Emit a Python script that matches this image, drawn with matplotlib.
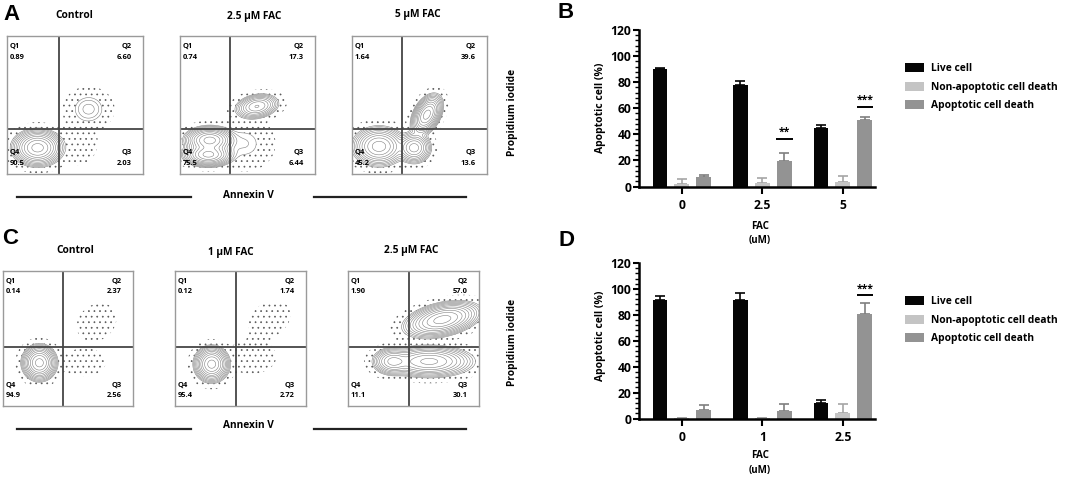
import numpy as np
import matplotlib
matplotlib.use('Agg')
import matplotlib.pyplot as plt
from matplotlib.lines import Line2D
from matplotlib.ticker import MultipleLocator

# ---------------- data ----------------
series_names = ['Live cell', 'Non-apoptotic cell death', 'Apoptotic cell death']

conc_B = ['0', '2.5', '5']
live_B = [89.9, 77.9, 45.2]
live_B_err = [1.3, 3.0, 2.3]
nonapo_B = [2.0, 2.6, 3.8]
nonapo_B_err = [3.6, 3.8, 3.9]
apo_B = [7.4, 19.2, 51.1]
apo_B_err = [1.8, 6.3, 2.5]
sig_B_groups = [1, 2]
sig_B_heights = [36.3, 60.8]
sig_B_labels = ['**', '***']

conc_D = ['0', '1', '2.5']
live_D = [91.2, 91.4, 12.0]
live_D_err = [3.3, 5.4, 2.0]
nonapo_D = [0.3, 0.3, 4.3]
nonapo_D_err = [0.0, 0.0, 6.7]
apo_D = [6.4, 6.1, 80.5]
apo_D_err = [3.8, 4.9, 8.6]
sig_D_groups = [2]
sig_D_heights = [95.0]
sig_D_labels = ['***']

yticks_bar = [0, 20, 40, 60, 80, 100, 120]

# flow cytometry panels: quadrant percentages (Q1, Q2, Q3, Q4)
titles_A = ['Control', '2.5 µM FAC', '5 µM FAC']
quad_A = [['0.89', '6.60', '2.03', '90.5'],
          ['0.74', '17.3', '6.44', '75.5'],
          ['1.64', '39.6', '13.6', '45.2']]
gate_A = [(0.38, 0.326), (0.37, 0.326), (0.367, 0.326)]
# populations: (annexin centre, PI centre, spread x, spread y, tilt deg, weight)
pops_A = [
    [(0.225, 0.19, 0.070, 0.050, 0, 1.0), (0.60, 0.47, 0.070, 0.060, 0, 0.05),
     (0.52, 0.23, 0.070, 0.080, 0, 0.014)],
    [(0.22, 0.245, 0.070, 0.038, 0, 0.6), (0.21, 0.14, 0.070, 0.033, 0, 0.5),
     (0.57, 0.49, 0.065, 0.035, 10, 0.2), (0.48, 0.22, 0.090, 0.080, 0, 0.04)],
    [(0.20, 0.20, 0.075, 0.055, 0, 0.6), (0.46, 0.19, 0.050, 0.045, 0, 0.22),
     (0.555, 0.43, 0.060, 0.036, 60, 0.45)],
]

titles_C = ['Control', '1 µM FAC', '2.5 µM FAC']
quad_C = [['0.14', '2.37', '2.56', '94.9'],
          ['0.12', '1.74', '2.72', '95.4'],
          ['1.90', '57.0', '30.1', '11.1']]
gate_C = [(0.46, 0.438), (0.466, 0.438), (0.467, 0.438)]
pops_C = [
    [(0.28, 0.32, 0.050, 0.050, 0, 1.0), (0.72, 0.62, 0.100, 0.080, 35, 0.012),
     (0.62, 0.32, 0.100, 0.060, 0, 0.010)],
    [(0.28, 0.31, 0.050, 0.050, 0, 1.0), (0.72, 0.64, 0.110, 0.080, 30, 0.012),
     (0.58, 0.36, 0.110, 0.070, 0, 0.014)],
    [(0.72, 0.64, 0.110, 0.045, 12, 0.6), (0.62, 0.33, 0.130, 0.045, 0, 0.45),
     (0.34, 0.33, 0.060, 0.040, 0, 0.12)],
]

# ---------------- figure ----------------
W, H = 1072, 478
fig = plt.figure(figsize=(W / 100, H / 100), dpi=100)
plt.rcParams['hatch.color'] = '#5a5a5a'
plt.rcParams['hatch.linewidth'] = 0.5

FONT = ['Open Sans', 'DejaVu Sans']
LETTER_FONT = ['Liberation Sans', 'DejaVu Sans']


def rect(x0, y0, x1, y1):
    return [x0 / W, 1 - y1 / H, (x1 - x0) / W, (y1 - y0) / H]


def ftext(x, y, s, **kw):
    kw.setdefault('family', FONT)
    kw.setdefault('weight', 'bold')
    kw.setdefault('ha', 'center')
    kw.setdefault('va', 'center')
    return fig.text(x / W, 1 - y / H, s, **kw)


def hline_px(x0, x1, y, **kw):
    fig.add_artist(Line2D([x0 / W, x1 / W], [1 - y / H, 1 - y / H],
                          transform=fig.transFigure, **kw))


gx = np.linspace(0, 1, 240)
GX, GY = np.meshgrid(gx, gx)


def density(pops):
    Z = np.zeros_like(GX)
    for cx, cy, sx, sy, ang, w in pops:
        t = np.deg2rad(ang)
        dx, dy = GX - cx, GY - cy
        u = dx * np.cos(t) + dy * np.sin(t)
        v = -dx * np.sin(t) + dy * np.cos(t)
        Z += w / (sx * sy) * np.exp(-0.5 * ((u / sx) ** 2 + (v / sy) ** 2))
    return Z / Z.max()


def flow_panel(box, gate, pops, quads):
    ax = fig.add_axes(rect(*box))
    ax.set_xlim(0, 1)
    ax.set_ylim(0, 1)
    ax.set_xticks([])
    ax.set_yticks([])
    for sp in ax.spines.values():
        sp.set_color('#9a9a9a')
        sp.set_linewidth(1.0)
    Z = density(pops)
    ax.contourf(GX, GY, Z, levels=[10 ** -3.0, 10 ** -1.8], colors='none',
                hatches=['...'])
    ax.contour(GX, GY, Z, levels=np.logspace(-1.8, -0.08, 11),
               colors='#808080', linewidths=0.4)
    ax.axvline(gate[0], color='#454545', lw=1.3)
    ax.axhline(gate[1], color='#454545', lw=1.3)
    tk = dict(fontsize=5.4, weight='bold', family=FONT, transform=ax.transAxes,
              va='center')
    ax.text(0.022, 0.922, 'Q1', ha='left', **tk)
    ax.text(0.022, 0.845, quads[0], ha='left', **tk)
    ax.text(0.915, 0.922, 'Q2', ha='right', **tk)
    ax.text(0.915, 0.845, quads[1], ha='right', **tk)
    ax.text(0.915, 0.155, 'Q3', ha='right', **tk)
    ax.text(0.915, 0.078, quads[2], ha='right', **tk)
    ax.text(0.022, 0.155, 'Q4', ha='left', **tk)
    ax.text(0.022, 0.078, quads[3], ha='left', **tk)
    return ax


# ----- panel A -----
boxes_A = [(7, 36, 143, 174), (180, 36, 315, 174), (352, 36, 487, 174)]
title_pos_A = [(74, 16), (254, 17), (418, 15)]
for i in range(3):
    flow_panel(boxes_A[i], gate_A[i], pops_A[i], quad_A[i])
    ftext(*title_pos_A[i], titles_A[i], fontsize=7.3)
ftext(248, 195, 'Annexin V', fontsize=7.3)
hline_px(17, 191, 197, color='#222222', lw=1.6)
hline_px(314, 466, 197, color='#222222', lw=1.6)
ftext(513, 112, 'Propidium iodide', fontsize=7.3, rotation=90)

# ----- panel C -----
boxes_C = [(3, 271, 133, 406), (175, 271, 306, 406), (348, 271, 479, 406)]
title_pos_C = [(75, 251), (231, 252), (411, 251)]
for i in range(3):
    flow_panel(boxes_C[i], gate_C[i], pops_C[i], quad_C[i])
    ftext(*title_pos_C[i], titles_C[i], fontsize=7.3)
ftext(248, 426, 'Annexin V', fontsize=7.3)
hline_px(17, 191, 429, color='#222222', lw=1.6)
hline_px(314, 466, 429, color='#222222', lw=1.6)
ftext(513, 342, 'Propidium iodide', fontsize=7.3, rotation=90)

# ----- bar panels -----
bar_colors = ['#050505', '#c4c4c4', '#939393']
err_colors = ['#050505', '#a5a5a5', '#7f7f7f']
offsets = [-0.273, 0.0, 0.273]
bar_w = 0.186


def bar_panel(box, cats, vals, errs, sig_groups, sig_heights, sig_labels,
              legend_xy, xlabel_y, ylabel_y):
    ax = fig.add_axes(rect(*box))
    x = np.arange(len(cats))
    for k in range(3):
        xs = x + offsets[k]
        ax.bar(xs, vals[k], width=bar_w, color=bar_colors[k],
               label=series_names[k], zorder=2)
        ax.errorbar(xs, vals[k], yerr=[np.zeros(len(cats)), errs[k]], fmt='none',
                    ecolor=err_colors[k], elinewidth=1.2, capsize=3.3,
                    capthick=1.2, zorder=1)
    for g, h, lab in zip(sig_groups, sig_heights, sig_labels):
        xc = g + offsets[2]
        ax.plot([xc - bar_w * 0.55, xc + bar_w * 0.55], [h, h], color='black',
                lw=1.4, zorder=3, solid_capstyle='butt')
        ax.text(xc, h + 0.8, lab, ha='center', va='bottom', fontsize=7.5,
                weight='bold', family=FONT)
    ax.set_xlim(-0.534, 2.398)
    ax.set_ylim(0, 120)
    ax.set_yticks(yticks_bar)
    ax.set_yticklabels([str(t) for t in yticks_bar], fontsize=8.7,
                       weight='bold', family=FONT)
    ax.yaxis.set_minor_locator(MultipleLocator(4))
    ax.set_xticks(x)
    ax.set_xticklabels(cats, fontsize=8.7, weight='bold', family=FONT)
    for s in ['top', 'right']:
        ax.spines[s].set_visible(False)
    for s in ['left', 'bottom']:
        ax.spines[s].set_linewidth(1.8)
    ax.tick_params(axis='y', which='major', length=4.5, width=1.5, pad=1)
    ax.tick_params(axis='y', which='minor', length=2.8, width=1.0)
    ax.tick_params(axis='x', which='major', length=5, width=1.5, pad=4)
    ftext(760, xlabel_y, 'FAC', fontsize=7)
    ftext(760, xlabel_y + 15, '(uM)', fontsize=7)
    ftext(600, ylabel_y, 'Apoptotic cell (%)', fontsize=7.5, rotation=90)
    ax.legend(loc='upper left', bbox_to_anchor=(legend_xy[0] / W, 1 - legend_xy[1] / H),
              bbox_transform=fig.transFigure, frameon=False, borderpad=0,
              borderaxespad=0, handlelength=1.8, handleheight=1.0,
              handletextpad=0.7, labelspacing=0.72,
              prop={'family': FONT, 'weight': 'bold', 'size': 7.4})
    return ax


bar_panel((639, 30, 875, 186.5), conc_B,
          [live_B, nonapo_B, apo_B], [live_B_err, nonapo_B_err, apo_B_err],
          sig_B_groups, sig_B_heights, sig_B_labels, (905, 63), 226, 108)
bar_panel((639, 263, 875, 418.5), conc_D,
          [live_D, nonapo_D, apo_D], [live_D_err, nonapo_D_err, apo_D_err],
          sig_D_groups, sig_D_heights, sig_D_labels, (905, 296), 456, 336)

# panel letters
ftext(11, 14, 'A', fontsize=16, family=LETTER_FONT)
ftext(566, 12, 'B', fontsize=16, family=LETTER_FONT)
ftext(10, 238, 'C', fontsize=16, family=LETTER_FONT)
ftext(566, 240, 'D', fontsize=16, family=LETTER_FONT)

fig.savefig('out.png', dpi=100)
